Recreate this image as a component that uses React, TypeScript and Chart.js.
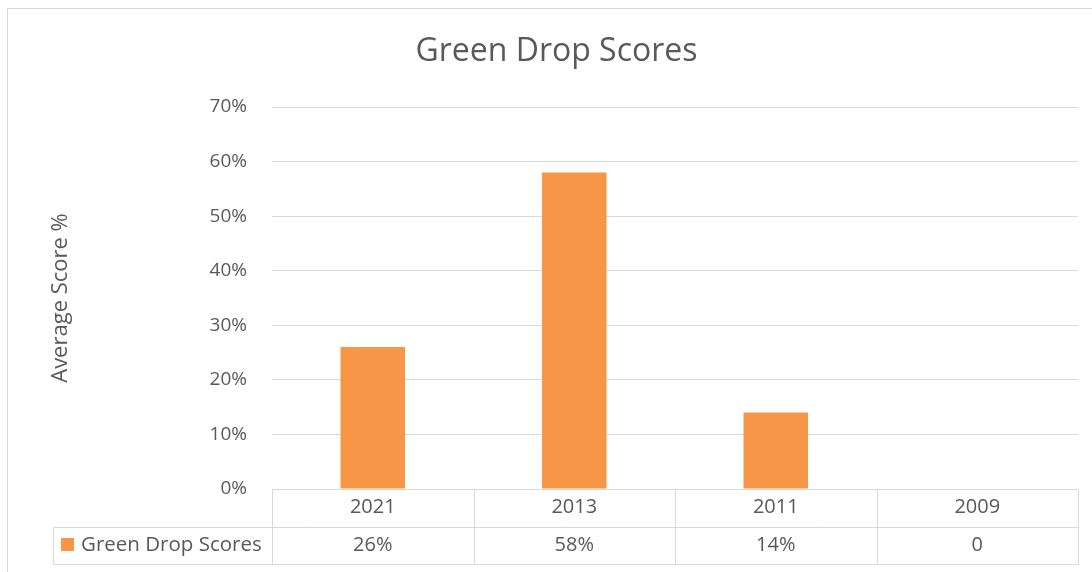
import React, { useEffect, useRef } from "react";
import { Chart, registerables } from "chart.js";

Chart.register(...registerables);

const categories = ["2021", "2013", "2011", "2009"];
const seriesName = "Green Drop Scores";
const values = [26, 58, 14, 0];
const yTicks = [0, 10, 20, 30, 40, 50, 60, 70];

const FONT = "'Open Sans', 'Liberation Sans', sans-serif";
const TEXT = "#595959";
const GRID = "#d9d9d9";
const BAR = "#f79646";

const fmt = (v: number) => (v === 0 ? "0" : v + "%");

const tablePlugin = {
  id: "dataTable",
  beforeDraw(chart: any) {
    const ctx = chart.ctx;
    ctx.save();
    ctx.strokeStyle = GRID;
    ctx.lineWidth = 1;
    ctx.strokeRect(7.5, 8.5, chart.width + 20, chart.height + 20);
    ctx.restore();
  },
  afterDraw(chart: any) {
    const ctx = chart.ctx;
    const area = chart.chartArea;
    const x = chart.scales.x;
    const n = categories.length;
    const colW = (area.right - area.left) / n;
    const top = area.bottom;
    const rowH = 37.5;
    const mid = top + rowH;
    const bot = top + rowH * 2;
    const legendLeft = 53;
    ctx.save();
    ctx.strokeStyle = GRID;
    ctx.lineWidth = 1;
    ctx.beginPath();
    const p = (v: number) => Math.round(v) + 0.5;
    ctx.moveTo(area.left, p(top));
    ctx.lineTo(area.right, p(top));
    ctx.moveTo(legendLeft, p(mid));
    ctx.lineTo(area.right, p(mid));
    ctx.moveTo(legendLeft, p(bot));
    ctx.lineTo(area.right, p(bot));
    ctx.moveTo(p(legendLeft), p(mid));
    ctx.lineTo(p(legendLeft), p(bot));
    for (let i = 0; i <= n; i++) {
      const xx = p(area.left + colW * i);
      ctx.moveTo(xx, p(top));
      ctx.lineTo(xx, p(bot));
    }
    ctx.stroke();

    ctx.fillStyle = TEXT;
    ctx.font = "20px " + FONT;
    ctx.textAlign = "center";
    ctx.textBaseline = "middle";
    categories.forEach((c, i) => {
      const cx = x.getPixelForValue(i);
      ctx.fillText(c, cx, (top + mid) / 2);
      ctx.fillText(fmt(values[i]), cx, (mid + bot) / 2);
    });
    ctx.fillStyle = BAR;
    ctx.fillRect(61, 538, 13, 13);
    ctx.fillStyle = TEXT;
    ctx.textAlign = "left";
    ctx.font = "20.5px " + FONT;
    ctx.fillText(seriesName, 81, (mid + bot) / 2);
    ctx.restore();
  },
};

export default function App() {
  const ref = useRef<HTMLCanvasElement>(null);
  useEffect(() => {
    if (!ref.current) return;
    const chart = new Chart(ref.current, {
      type: "bar",
      data: {
        labels: categories,
        datasets: [
          {
            label: seriesName,
            data: values,
            backgroundColor: BAR,
            borderWidth: 0,
            barPercentage: 0.32,
            categoryPercentage: 1,
          },
        ],
      },
      options: {
        animation: false,
        responsive: false,
        maintainAspectRatio: false,
        layout: { padding: { left: 35, right: 14, top: 0, bottom: 0 } },
        plugins: {
          legend: { display: false },
          tooltip: { enabled: false },
          title: {
            display: true,
            text: seriesName,
            color: TEXT,
            font: { family: FONT, size: 32, weight: "normal" as any, lineHeight: 1.2 },
            padding: { top: 33, bottom: 35.6 },
          },
        },
        scales: {
          x: {
            grid: { display: false },
            border: { display: false },
            ticks: { display: false },
            afterFit(scale: any) {
              scale.height = 83;
            },
          },
          y: {
            min: 0,
            max: 70,
            afterBuildTicks(scale: any) {
              scale.ticks = yTicks.map((v) => ({ value: v }));
            },
            grid: { color: GRID, drawTicks: false, lineWidth: 1 },
            border: { display: false },
            ticks: {
              color: TEXT,
              font: { family: FONT, size: 19 },
              padding: 25,
              callback: (v: any) => v + "%",
            },
            title: {
              display: true,
              text: "Average Score %",
              color: TEXT,
              font: { family: FONT, size: 22 },
              padding: { top: 13, bottom: 0 },
            },
            afterFit(scale: any) {
              scale.width = 237;
            },
          },
        },
      },
      plugins: [tablePlugin],
    });
    return () => chart.destroy();
  }, []);
  return (
    <div style={{ position: "fixed", left: 0, top: 0, width: 1092, height: 572, background: "#fff" }}>
      <canvas ref={ref} width={1092} height={572} />
    </div>
  );
}
